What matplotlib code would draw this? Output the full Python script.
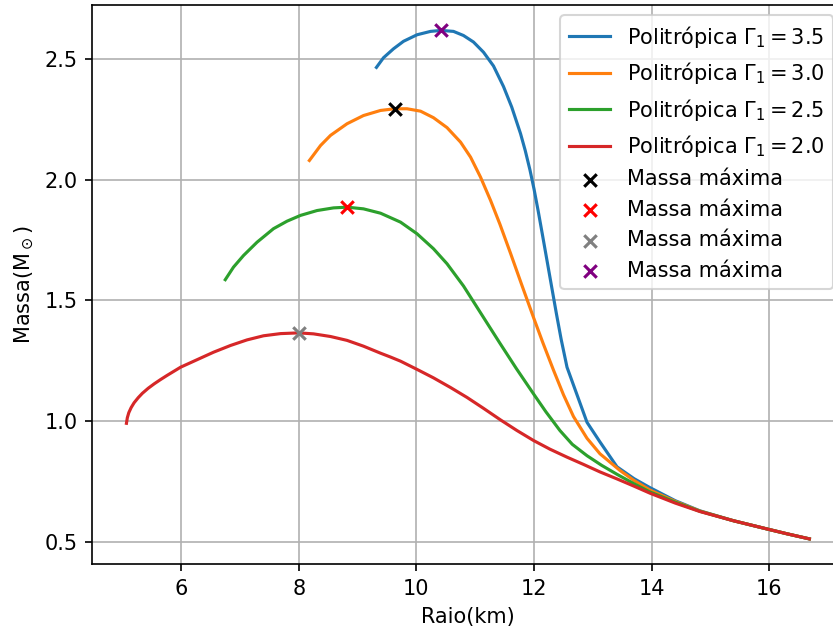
import matplotlib
matplotlib.use("Agg")
import matplotlib.pyplot as plt

# Mass-radius curves for polytropic equations of state
r_35 = [9.32, 9.44, 9.61, 9.78, 10.01, 10.24, 10.42, 10.63, 10.80, 10.97, 11.14, 11.31,
        11.48, 11.62, 11.77, 11.85, 11.93, 12.00, 12.07, 12.14, 12.22, 12.30, 12.38, 12.46,
        12.56, 12.90, 13.12, 13.41, 13.70, 13.97, 14.40, 14.82, 15.39, 15.96, 16.30, 16.68]
m_35 = [2.464, 2.504, 2.541, 2.572, 2.599, 2.613, 2.617, 2.613, 2.596, 2.569, 2.527, 2.470,
        2.385, 2.300, 2.190, 2.120, 2.040, 1.960, 1.870, 1.775, 1.665, 1.555, 1.445, 1.340,
        1.224, 0.996, 0.915, 0.812, 0.763, 0.726, 0.672, 0.630, 0.589, 0.555, 0.535, 0.514]

r_30 = [8.18, 8.37, 8.54, 8.82, 9.10, 9.39, 9.63, 9.84, 10.07, 10.29, 10.52, 10.75, 10.92,
        11.09, 11.26, 11.42, 11.60, 11.79, 11.99, 12.15, 12.33, 12.50, 12.67, 12.90, 13.12,
        13.46, 13.69, 13.97, 14.40, 14.82, 15.39, 15.96, 16.30, 16.68]
m_30 = [2.079, 2.141, 2.183, 2.231, 2.265, 2.286, 2.293, 2.293, 2.283, 2.256, 2.215, 2.155,
        2.093, 2.010, 1.914, 1.815, 1.695, 1.565, 1.430, 1.325, 1.212, 1.110, 1.020, 0.930,
        0.866, 0.797, 0.757, 0.716, 0.669, 0.629, 0.589, 0.555, 0.535, 0.514]

r_25 = [6.75, 6.89, 7.06, 7.29, 7.57, 7.80, 8.03, 8.31, 8.59, 8.82, 9.10, 9.39, 9.73,
        10.01, 10.29, 10.52, 10.80, 11.03, 11.20, 11.42, 11.70, 11.99, 12.20, 12.44, 12.65,
        12.90, 13.15, 13.41, 13.70, 13.97, 14.40, 14.82, 15.39, 15.96, 16.30, 16.68]
m_25 = [1.586, 1.638, 1.686, 1.741, 1.797, 1.828, 1.852, 1.872, 1.883, 1.886, 1.879, 1.861,
        1.824, 1.776, 1.714, 1.652, 1.560, 1.472, 1.407, 1.323, 1.218, 1.114, 1.040, 0.962,
        0.905, 0.858, 0.818, 0.781, 0.742, 0.708, 0.666, 0.628, 0.589, 0.555, 0.535, 0.514]

r_20 = [5.07, 5.085, 5.11, 5.15, 5.20, 5.27, 5.34, 5.44, 5.54, 5.65, 5.76, 5.99, 6.27, 6.55,
        6.84, 7.12, 7.40, 7.69, 8.00, 8.25, 8.54, 8.82, 9.10, 9.39, 9.56, 9.73, 10.01, 10.29,
        10.58, 10.86, 11.14, 11.43, 11.71, 11.99, 12.27, 12.56, 12.84, 13.12, 13.41, 13.69,
        13.97, 14.40, 14.82, 15.39, 15.96, 16.30, 16.68]
m_20 = [0.992, 1.015, 1.036, 1.057, 1.077, 1.098, 1.116, 1.137, 1.155, 1.173, 1.190, 1.224,
        1.255, 1.286, 1.314, 1.337, 1.354, 1.363, 1.366, 1.362, 1.351, 1.335, 1.311, 1.282,
        1.266, 1.249, 1.215, 1.180, 1.140, 1.099, 1.054, 1.006, 0.962, 0.921, 0.885, 0.852,
        0.822, 0.791, 0.762, 0.733, 0.703, 0.662, 0.627, 0.589, 0.555, 0.535, 0.514]

curves = [
    (r_35, m_35, r"Politrópica $\Gamma_1 = 3.5$"),
    (r_30, m_30, r"Politrópica $\Gamma_1 = 3.0$"),
    (r_25, m_25, r"Politrópica $\Gamma_1 = 2.5$"),
    (r_20, m_20, r"Politrópica $\Gamma_1 = 2.0$"),
]

# Maximum-mass configurations (radius, mass, marker colour)
max_r = [9.63, 8.82, 8.00, 10.42]
max_m = [2.293, 1.886, 1.366, 2.617]
max_colors = ["black", "red", "gray", "purple"]

DPI = 150
fig = plt.figure(figsize=(834 / DPI, 635 / DPI), dpi=DPI)
ax = fig.add_axes([92.3 / 834, 70.7 / 635, (843.5 - 92.3) / 834, (564.3 - 5) / 635])

for r, m, lab in curves:
    ax.plot(r, m, label=lab)

for r, m, c in zip(max_r, max_m, max_colors):
    ax.scatter([r], [m], marker="x", color=c, label="Massa máxima", zorder=3)

ax.set_xlabel("Raio(km)")
ax.set_ylabel(r"Massa(M$_\odot$)")
ax.grid(True)
ax.legend(loc="upper right")

fig.savefig("out.png", dpi=DPI)
